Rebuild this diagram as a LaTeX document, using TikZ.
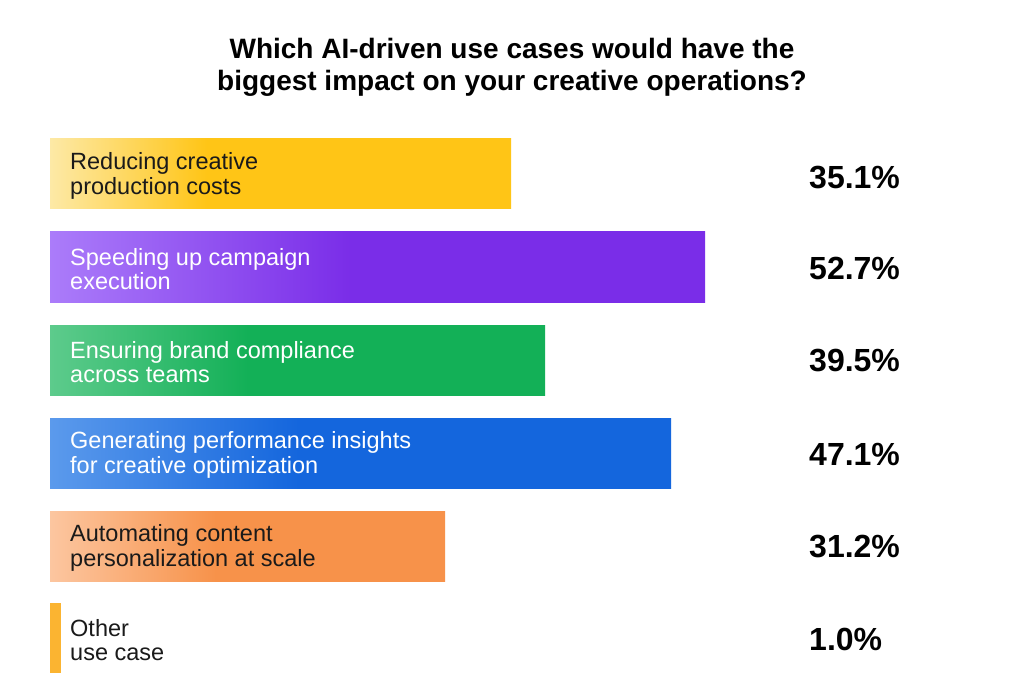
\documentclass[tikz,border=0pt]{standalone}
\usepackage{fontspec}
\setmainfont{Liberation Sans}
\usepackage{xcolor}
\usetikzlibrary{positioning}
\definecolor{ymain}{HTML}{FFC516}
\definecolor{ylight}{HTML}{FDE9A6}
\definecolor{pmain}{HTML}{7A2DE8}
\definecolor{plight}{HTML}{AB7CFA}
\definecolor{gmain}{HTML}{13B057}
\definecolor{glight}{HTML}{5DCB8C}
\definecolor{bmain}{HTML}{1466DD}
\definecolor{blight}{HTML}{5B9AEC}
\definecolor{omain}{HTML}{F7924A}
\definecolor{olight}{HTML}{FCC6A0}
\definecolor{othermain}{HTML}{FBB431}
\definecolor{txt}{HTML}{1A1A1A}
% light-to-full fade over the left part of each bar
\pgfdeclarehorizontalshading{yfade}{100bp}{color(0bp)=(ylight); color(25bp)=(ylight); color(42bp)=(ymain); color(100bp)=(ymain)}
\pgfdeclarehorizontalshading{pfade}{100bp}{color(0bp)=(plight); color(25bp)=(plight); color(48bp)=(pmain); color(100bp)=(pmain)}
\pgfdeclarehorizontalshading{gfade}{100bp}{color(0bp)=(glight); color(25bp)=(glight); color(45bp)=(gmain); color(100bp)=(gmain)}
\pgfdeclarehorizontalshading{bfade}{100bp}{color(0bp)=(blight); color(25bp)=(blight); color(45bp)=(bmain); color(100bp)=(bmain)}
\pgfdeclarehorizontalshading{ofade}{100bp}{color(0bp)=(olight); color(25bp)=(olight); color(46bp)=(omain); color(100bp)=(omain)}
\tikzstyle{bar} = [rectangle, inner sep=0, outer sep=0, minimum height=70pt, anchor=north west]
\tikzstyle{lbl} = [anchor=west, align=left, inner sep=0, yshift=-2pt, font=\fontsize{23.5}{24.5}\selectfont]
\tikzstyle{pct} = [anchor=west, inner sep=0, text=black, font=\fontsize{32}{32}\selectfont\bfseries]
\begin{document}
\begin{tikzpicture}[x=1pt, y=-1pt]
	  \useasboundingbox [fill=white] (0,0) rectangle (1024,700);
	  \node [align=center, font=\fontsize{28}{32}\selectfont\bfseries] (title) at (512,67) {Which AI-driven use cases would have the\\biggest impact on your creative operations?};
	
	  % bars
	  \node [bar, shading=yfade, minimum width=461pt] (b1) at (50,139) {};
	  \node [bar, shading=pfade, minimum width=655pt] (b2) at (50,232) {};
	  \node [bar, shading=gfade, minimum width=495pt] (b3) at (50,325) {};
	  \node [bar, shading=bfade, minimum width=621pt] (b4) at (50,418) {};
	  \node [bar, shading=ofade, minimum width=395pt] (b5) at (50,511) {};
	  \node [bar, fill=othermain, minimum width=11pt] (b6) at (50,603) {};
	
	  % labels
	  \node [lbl, text=txt, right=20pt of b1.west] (l1) {Reducing creative\\production costs};
	  \node [lbl, text=white, right=20pt of b2.west] (l2) {Speeding up campaign\\execution};
	  \node [lbl, text=white, right=20pt of b3.west] (l3) {Ensuring brand compliance\\across teams};
	  \node [lbl, text=white, right=20pt of b4.west] (l4) {Generating performance insights\\for creative optimization};
	  \node [lbl, text=txt, right=20pt of b5.west] (l5) {Automating content\\personalization at scale};
	  \node [lbl, text=txt, right=20pt of b6.west] (l6) {Other\\use case};
	
	  % values
	  \node [pct, yshift=-4pt] (p1) at (b1.west -| 809,0) {35.1\%};
	  \node [pct, yshift=-1pt] (p2) at (b2.west -| 809,0) {52.7\%};
	  \node [pct, yshift=-1pt] (p3) at (b3.west -| 809,0) {39.5\%};
	  \node [pct, yshift=-1pt] (p4) at (b4.west -| 809,0) {47.1\%};
	  \node [pct, yshift=-1pt] (p5) at (b5.west -| 809,0) {31.2\%};
	  \node [pct, yshift=-1pt] (p6) at (b6.west -| 809,0) {1.0\%};
	\end{tikzpicture}
\end{document}
